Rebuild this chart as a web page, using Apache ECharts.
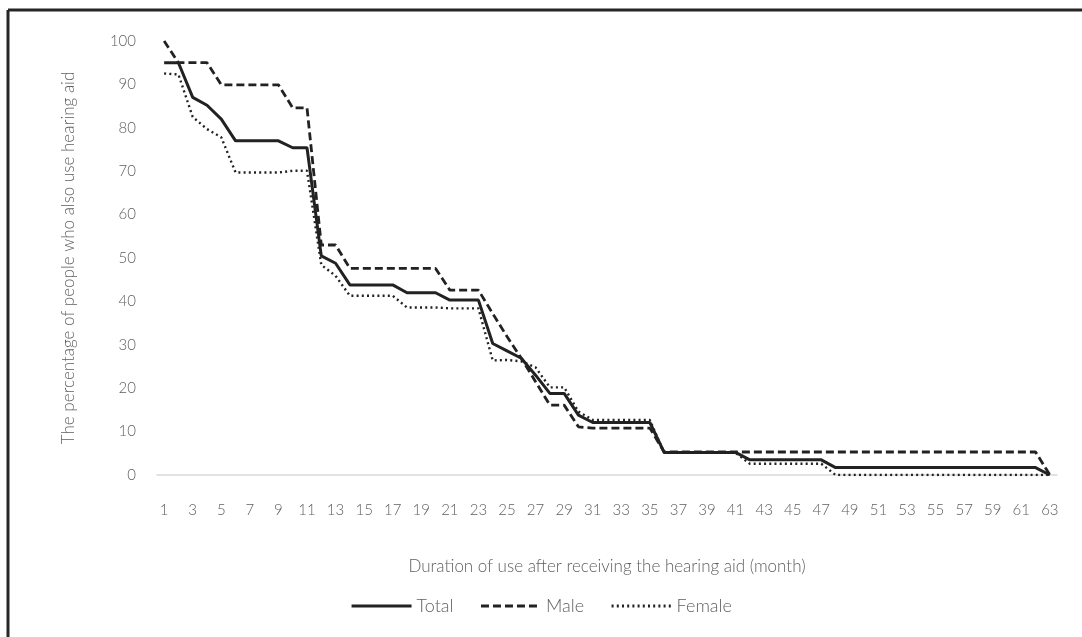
<!DOCTYPE html>
<html>
<head>
<meta charset="utf-8">
<script src="https://cdn.jsdelivr.net/npm/echarts@6/dist/echarts.min.js"></script>
<style>
html,body{margin:0;padding:0;background:#fff;}
#c{width:1082px;height:637px;}
</style>
</head>
<body>
<div id="c"></div>
<script>
const months = [];
for (let m = 1; m <= 63; m++) months.push(String(m));

const total = [95, 95, 87, 85.2, 82, 77, 77, 77, 77, 75.4, 75.4, 50.5, 48.8, 43.8, 43.8, 43.8, 43.8, 42, 42, 42,
  40.3, 40.3, 40.3, 30.3, 28.6, 26.9, 23, 18.8, 18.8, 13.8, 12.1, 12.1, 12.1, 12.1, 12.1,
  5.2, 5.2, 5.2, 5.2, 5.2, 5.2, 3.5, 3.5, 3.5, 3.5, 3.5, 3.5,
  1.7, 1.7, 1.7, 1.7, 1.7, 1.7, 1.7, 1.7, 1.7, 1.7, 1.7, 1.7, 1.7, 1.7, 1.7, 0];

const male = [100, 95, 95, 95, 89.9, 89.9, 89.9, 89.9, 89.9, 84.6, 84.6, 53, 53, 47.6, 47.6, 47.6, 47.6, 47.6, 47.6, 47.6,
  42.6, 42.6, 42.6, 37.2, 31.9, 26.9, 21.5, 16.1, 16.1, 11.1, 10.8, 10.8, 10.8, 10.8, 10.8,
  5.3, 5.3, 5.3, 5.3, 5.3, 5.3, 5.3, 5.3, 5.3, 5.3, 5.3, 5.3,
  5.3, 5.3, 5.3, 5.3, 5.3, 5.3, 5.3, 5.3, 5.3, 5.3, 5.3, 5.3, 5.3, 5.3, 5.3, 0];

const female = [92.5, 92.3, 82.5, 79.7, 77.8, 69.7, 69.7, 69.7, 69.7, 70.1, 70.1, 48.4, 45.9, 41.3, 41.3, 41.3, 41.3, 38.6, 38.6, 38.6,
  38.4, 38.4, 38.4, 26.4, 26.5, 26.2, 24.8, 20.2, 20.2, 14.6, 12.7, 12.7, 12.7, 12.7, 12.7,
  5.1, 5.1, 5.1, 5.1, 5.1, 5.1, 2.6, 2.6, 2.6, 2.6, 2.6, 2.6,
  0, 0, 0, 0, 0, 0, 0, 0, 0, 0, 0, 0, 0, 0, 0, 0];

const yTicks = [0, 100, 10];

const textColor = '#606060';
const fontFam = '"Lato Light", Lato, "Noto Sans", sans-serif';
const lineColor = '#222222';

const chart = echarts.init(document.getElementById('c'), null, {renderer: 'canvas'});
chart.setOption({
  animation: false,
  backgroundColor: '#ffffff',
  grid: {left: 157, right: 25, top: 41, bottom: 162, containLabel: false},
  graphic: [
    {type: 'line', shape: {x1: 8, y1: 10, x2: 1082, y2: 10}, style: {stroke: '#262626', lineWidth: 3}},
    {type: 'line', shape: {x1: 8, y1: 10, x2: 8, y2: 637}, style: {stroke: '#262626', lineWidth: 3}}
  ],
  legend: {
    bottom: 17,
    left: 'center',
    itemWidth: 60,
    itemHeight: 12,
    itemGap: 26,
    itemStyle: {color: 'transparent', borderWidth: 0, opacity: 0},
    lineStyle: {width: 3},
    textStyle: {color: textColor, fontFamily: fontFam, fontSize: 18},
    data: ['Total', 'Male', 'Female']
  },
  xAxis: {
    type: 'category',
    data: months,
    boundaryGap: true,
    name: 'Duration of use after receiving the hearing aid (month)',
    nameLocation: 'middle',
    nameGap: 83,
    nameTextStyle: {color: textColor, fontFamily: fontFam, fontSize: 17},
    axisLine: {lineStyle: {color: '#d9d9d9', width: 1.5}},
    axisTick: {show: false},
    axisLabel: {interval: 1, color: textColor, fontFamily: fontFam, fontSize: 15, margin: 28}
  },
  yAxis: {
    type: 'value',
    min: yTicks[0],
    max: yTicks[1],
    interval: yTicks[2],
    name: 'The percentage of people who also use hearing aid',
    nameLocation: 'middle',
    nameGap: 80,
    nameRotate: 90,
    nameTextStyle: {color: textColor, fontFamily: fontFam, fontSize: 17},
    axisLine: {show: false},
    axisTick: {show: false},
    splitLine: {show: false},
    axisLabel: {color: textColor, fontFamily: fontFam, fontSize: 15, margin: 21}
  },
  series: [
    {name: 'Total', type: 'line', data: total, symbol: 'none',
      lineStyle: {color: lineColor, width: 3, type: 'solid'}, itemStyle: {color: lineColor}},
    {name: 'Male', type: 'line', data: male, symbol: 'none',
      lineStyle: {color: lineColor, width: 2.8, type: [8, 4]}, itemStyle: {color: lineColor}},
    {name: 'Female', type: 'line', data: female, symbol: 'none',
      lineStyle: {color: lineColor, width: 2.4, type: [2, 3.2]}, itemStyle: {color: lineColor}}
  ]
});
</script>
</body>
</html>
